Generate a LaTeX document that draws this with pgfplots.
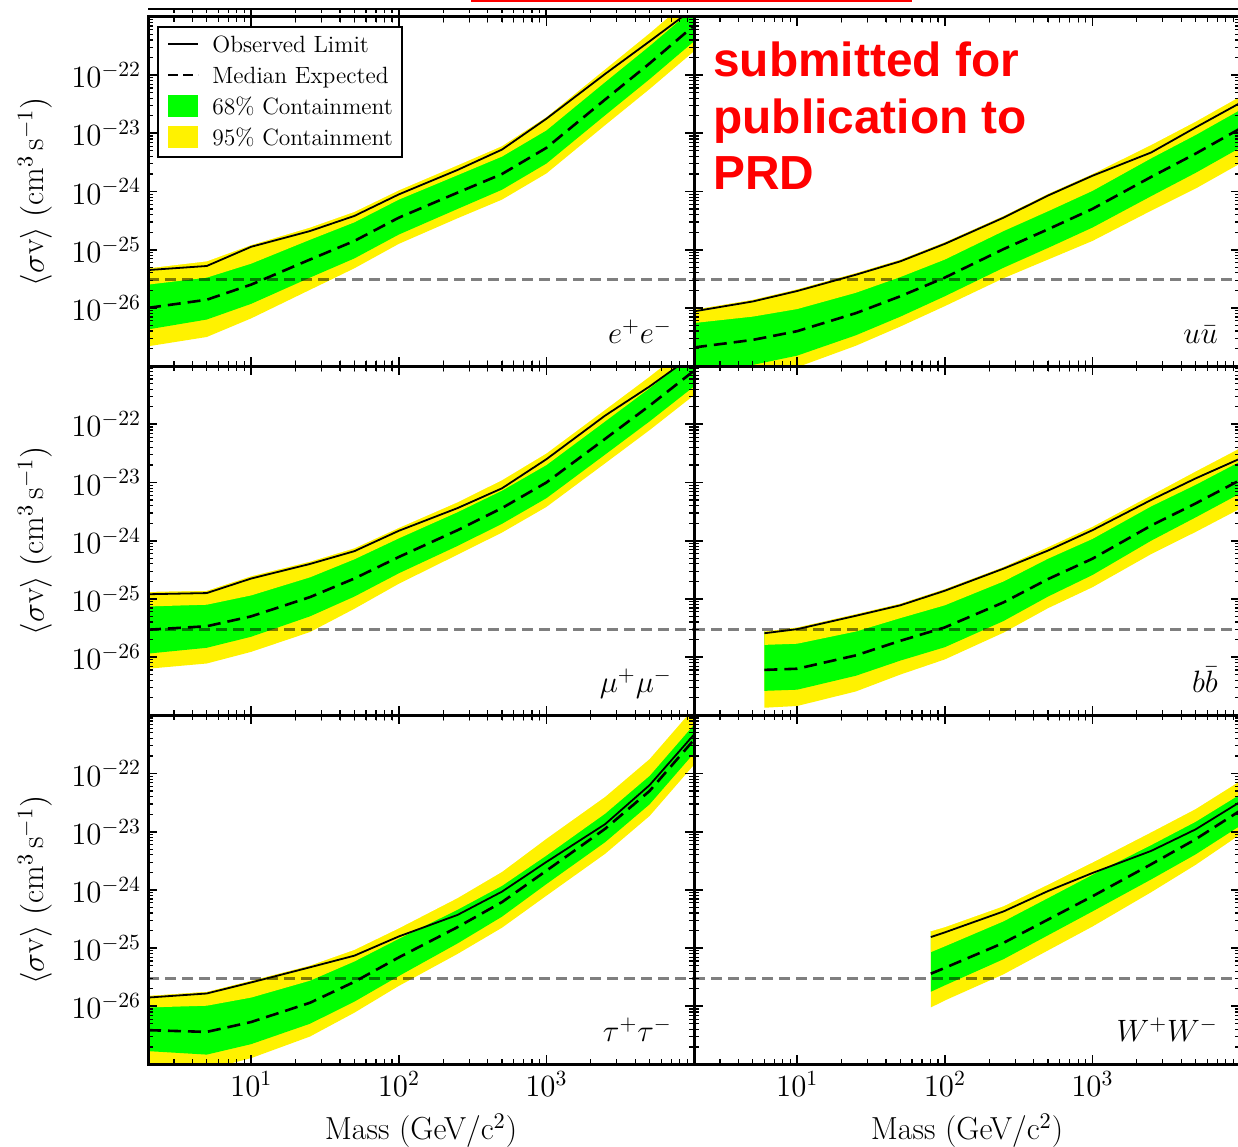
\RequirePackage{fix-cm}
\documentclass[border=0pt]{standalone}
\usepackage{fontspec}
\usepackage{pgfplots}
\usepackage{pgfplotstable}
\pgfplotsset{compat=1.18}
\newfontfamily\prdfont{Liberation Sans}

% Upper limits on <sigma v>, stored as log10 values.
% Columns: mass [GeV], observed, median expected, 95% low, 68% low, 68% high, 95% high
\pgfplotstableread{
m obs med yl gl gh yh
2     -25.35 -26.00 -26.66 -26.37 -25.60 -25.32
5     -25.28 -25.86 -26.50 -26.20 -25.48 -25.20
10    -24.95 -25.60 -26.18 -25.93 -25.24 -24.92
25    -24.68 -25.17 -25.69 -25.48 -24.83 -24.62
50    -24.42 -24.85 -25.32 -25.15 -24.53 -24.35
100   -24.05 -24.45 -24.90 -24.74 -24.14 -23.98
250   -23.63 -24.02 -24.46 -24.30 -23.72 -23.55
500   -23.28 -23.70 -24.14 -23.97 -23.40 -23.22
1000  -22.75 -23.25 -23.69 -23.52 -22.95 -22.72
2500  -21.98 -22.42 -22.86 -22.69 -22.12 -21.90
5000  -21.42 -21.80 -22.24 -22.07 -21.50 -21.28
10000 -20.85 -21.15 -21.59 -21.42 -20.85 -20.63
}\tabee

\pgfplotstableread{
m obs med yl gl gh yh
2     -26.06 -26.68 -27.36 -27.10 -26.26 -26.03
5     -25.89 -26.55 -27.21 -26.98 -26.15 -25.86
10    -25.71 -26.40 -27.02 -26.82 -26.02 -25.68
25    -25.43 -26.09 -26.65 -26.47 -25.74 -25.40
50    -25.20 -25.80 -26.32 -26.15 -25.47 -25.17
100   -24.90 -25.48 -25.97 -25.80 -25.17 -24.87
250   -24.45 -24.99 -25.49 -25.31 -24.68 -24.42
500   -24.07 -24.65 -25.17 -24.97 -24.34 -24.04
1000  -23.73 -24.30 -24.85 -24.62 -23.99 -23.70
2500  -23.33 -23.75 -24.33 -24.08 -23.43 -23.20
5000  -22.90 -23.35 -23.95 -23.68 -23.03 -22.80
10000 -22.48 -22.92 -23.52 -23.25 -22.60 -22.37
}\tabuu

\pgfplotstableread{
m obs med yl gl gh yh
2     -24.92 -25.53 -26.20 -25.94 -25.13 -24.88
5     -24.90 -25.47 -26.11 -25.84 -25.10 -24.86
10    -24.65 -25.30 -25.91 -25.65 -24.94 -24.61
25    -24.40 -24.97 -25.57 -25.30 -24.63 -24.36
50    -24.18 -24.65 -25.17 -24.96 -24.32 -24.13
100   -23.83 -24.28 -24.74 -24.56 -23.96 -23.78
250   -23.44 -23.82 -24.24 -24.09 -23.51 -23.34
500   -23.10 -23.44 -23.86 -23.71 -23.14 -22.96
1000  -22.60 -23.00 -23.42 -23.27 -22.70 -22.50
2500  -21.85 -22.25 -22.67 -22.52 -21.95 -21.75
5000  -21.35 -21.68 -22.10 -21.95 -21.38 -21.18
10000 -20.80 -21.08 -21.50 -21.35 -20.78 -20.58
}\tabmumu

\pgfplotstableread{
m obs med yl gl gh yh
6     -25.59 -26.22 -26.87 -26.58 -25.79 -25.56
10    -25.52 -26.20 -26.84 -26.56 -25.77 -25.49
25    -25.29 -25.97 -26.59 -26.32 -25.56 -25.26
50    -25.11 -25.72 -26.30 -26.06 -25.33 -25.08
100   -24.86 -25.49 -26.04 -25.83 -25.11 -24.83
250   -24.48 -25.06 -25.58 -25.38 -24.70 -24.45
500   -24.17 -24.66 -25.16 -24.96 -24.31 -24.11
1000  -23.82 -24.31 -24.80 -24.59 -23.97 -23.76
2500  -23.30 -23.74 -24.23 -24.00 -23.41 -23.22
5000  -22.93 -23.36 -23.85 -23.60 -23.04 -22.81
10000 -22.59 -22.96 -23.45 -23.19 -22.64 -22.41
}\tabbb

\pgfplotstableread{
m obs med yl gl gh yh
2     -25.85 -26.41 -27.05 -26.77 -26.02 -25.82
5     -25.78 -26.44 -27.09 -26.83 -25.99 -25.75
10    -25.59 -26.27 -26.89 -26.65 -25.85 -25.56
25    -25.33 -25.94 -26.52 -26.30 -25.56 -25.30
50    -25.13 -25.58 -26.11 -25.92 -25.23 -25.03
100   -24.80 -25.16 -25.65 -25.48 -24.84 -24.66
250   -24.43 -24.64 -25.10 -24.92 -24.34 -24.14
500   -24.03 -24.21 -24.65 -24.46 -23.93 -23.69
1000  -23.52 -23.67 -24.10 -23.90 -23.41 -23.12
2500  -22.87 -22.95 -23.38 -23.18 -22.69 -22.40
5000  -22.20 -22.30 -22.73 -22.53 -22.04 -21.75
10000 -21.33 -21.42 -21.85 -21.65 -21.16 -20.87
}\tabtautau

\pgfplotstableread{
m obs med yl gl gh yh
80.4  -24.81 -25.44 -26.02 -25.75 -25.07 -24.71
100   -24.73 -25.34 -25.90 -25.64 -24.97 -24.64
250   -24.37 -24.91 -25.45 -25.19 -24.54 -24.28
500   -24.02 -24.51 -25.04 -24.78 -24.14 -23.91
1000  -23.71 -24.11 -24.63 -24.37 -23.74 -23.53
2500  -23.33 -23.56 -24.04 -23.82 -23.23 -23.01
5000  -22.96 -23.13 -23.57 -23.39 -22.83 -22.61
10000 -22.49 -22.64 -23.05 -22.90 -22.36 -22.13
}\tabww

% minor tick positions: 2..9 per decade in mass, and log10 of 2..9 per decade in <sigma v>
\def\xminorlist{3,4,5,6,7,8,9,20,30,40,50,60,70,80,90,200,300,400,500,600,700,800,900,2000,3000,4000,5000,6000,7000,8000,9000}
\def\yminorlist{-26.699,-26.523,-26.398,-26.301,-26.222,-26.155,-26.097,-26.046,-25.699,-25.523,-25.398,-25.301,-25.222,-25.155,-25.097,-25.046,-24.699,-24.523,-24.398,-24.301,-24.222,-24.155,-24.097,-24.046,-23.699,-23.523,-23.398,-23.301,-23.222,-23.155,-23.097,-23.046,-22.699,-22.523,-22.398,-22.301,-22.222,-22.155,-22.097,-22.046,-21.699,-21.523,-21.398,-21.301,-21.222,-21.155,-21.097,-21.046}

% settings shared by all six panels
\pgfplotsset{
  scale only axis, width=273bp, height=174.6bp,
  xmin=2, xmax=10000, ymin=-27, ymax=-21,
  xtick={10,100,1000},
  ytick={-26,-25,-24,-23,-22},
  every tick label/.append style={font=\fontsize{15.5}{18}\selectfont},
  every axis label/.append style={font=\fontsize{16}{19}\selectfont},
  every axis y label/.style={at={(axis description cs:-0.207,0.5)}, rotate=90, anchor=center},
  every axis x label/.style={at={(axis description cs:0.5,0)}, yshift=-37.7bp, anchor=base},
}

% #1 table, #2 lowest mass of the channel.
% Bands are painted from the bottom edge upwards: each fill covers the region
% above one band edge, so the last (white) one clears everything above the 95% band.
\newcommand{\limitpanel}[2]{%
  \addplot[fill=yellow, draw=none, forget plot] table[x=m, y=yl]{#1} |- (axis cs:#2,-20) -- cycle;
  \addplot[fill=green, draw=none, forget plot] table[x=m, y=gl]{#1} |- (axis cs:#2,-20) -- cycle;
  \addplot[fill=yellow, draw=none, forget plot] table[x=m, y=gh]{#1} |- (axis cs:#2,-20) -- cycle;
  \addplot[fill=white, draw=none, forget plot] table[x=m, y=yh]{#1} |- (axis cs:1.5,-20) -- cycle;
  \addplot[black, opacity=0.5, line width=1.5bp, dash pattern=on 5.5bp off 3bp, forget plot]
    coordinates {(2,-25.52) (10000,-25.52)};
  \addplot[black, line width=1.3bp, dash pattern=on 6.5bp off 3.5bp, forget plot] table[x=m, y=med]{#1};
  \addplot[black, line width=0.9bp, forget plot] table[x=m, y=obs]{#1};
}
\newcommand{\channel}[1]{%
  \node[anchor=base east, inner sep=0, font=\fontsize{15.5}{18}\selectfont] at (rel axis cs:0.96,0.065) {#1};
}

\begin{document}
\begin{tikzpicture}
\path[use as bounding box] (0bp,0bp) rectangle (619bp,573.5bp);

% remnants of the slide around the figure: the frame edge of the plot above, and a red box
\draw[line width=1.2bp] (74bp,569bp) -- (619bp,569bp);
\foreach \m in {3,4,5,6,7,8,9,20,30,40,50,60,70,80,90,200,300,400,500,600,700,800,900,2000,3000,4000,5000,6000,7000,8000,9000}{
  \pgfmathsetmacro\xx{74+273*(ln(\m)-ln(2))/(ln(10000)-ln(2))}
  \draw[line width=0.6bp] (\xx bp,569bp) -- (\xx bp,566.8bp);
}
\foreach \m in {10,100,1000}{
  \pgfmathsetmacro\xx{74+273*(ln(\m)-ln(2))/(ln(10000)-ln(2))}
  \draw[line width=0.9bp] (\xx bp,569bp) -- (\xx bp,565.5bp);
}
\draw[red, line width=1.2bp] (235.5bp,573bp) -- (456bp,573bp);

% top row
\begin{axis}[xmode=log, at={(74bp,390.45bp)}, anchor=south west,
  axis on top, tick align=inside, major tick length=4.5bp,
  major tick style={line width=0.9bp, black}, axis line style={line width=1.5bp},
  extra x ticks/.expand once=\xminorlist, extra y ticks/.expand once=\yminorlist,
  extra x tick labels={}, extra y tick labels={},
  extra tick style={major tick length=2.5bp, major tick style={line width=0.6bp, black}},
  xticklabels={},
  yticklabels={$10^{-26}$,$10^{-25}$,$10^{-24}$,$10^{-23}$,$10^{-22}$},
  ylabel={$\langle\sigma\mathrm{v}\rangle$ $(\mathrm{cm}^3\,\mathrm{s}^{-1})$}]
  \limitpanel{\tabee}{2}
  \channel{$e^+e^-$}
\end{axis}

\begin{axis}[xmode=log, at={(347bp,390.45bp)}, anchor=south west,
  axis on top, tick align=inside, major tick length=4.5bp,
  major tick style={line width=0.9bp, black}, axis line style={line width=1.5bp},
  extra x ticks/.expand once=\xminorlist, extra y ticks/.expand once=\yminorlist,
  extra x tick labels={}, extra y tick labels={},
  extra tick style={major tick length=2.5bp, major tick style={line width=0.6bp, black}},
  xticklabels={}, yticklabels={}]
  \limitpanel{\tabuu}{2}
  \channel{$u\bar{u}$}
\end{axis}

% middle row
\begin{axis}[xmode=log, at={(74bp,215.85bp)}, anchor=south west,
  axis on top, tick align=inside, major tick length=4.5bp,
  major tick style={line width=0.9bp, black}, axis line style={line width=1.5bp},
  extra x ticks/.expand once=\xminorlist, extra y ticks/.expand once=\yminorlist,
  extra x tick labels={}, extra y tick labels={},
  extra tick style={major tick length=2.5bp, major tick style={line width=0.6bp, black}},
  xticklabels={},
  yticklabels={$10^{-26}$,$10^{-25}$,$10^{-24}$,$10^{-23}$,$10^{-22}$},
  ylabel={$\langle\sigma\mathrm{v}\rangle$ $(\mathrm{cm}^3\,\mathrm{s}^{-1})$}]
  \limitpanel{\tabmumu}{2}
  \channel{$\mu^+\mu^-$}
\end{axis}

\begin{axis}[xmode=log, at={(347bp,215.85bp)}, anchor=south west,
  axis on top, tick align=inside, major tick length=4.5bp,
  major tick style={line width=0.9bp, black}, axis line style={line width=1.5bp},
  extra x ticks/.expand once=\xminorlist, extra y ticks/.expand once=\yminorlist,
  extra x tick labels={}, extra y tick labels={},
  extra tick style={major tick length=2.5bp, major tick style={line width=0.6bp, black}},
  xticklabels={}, yticklabels={}]
  \limitpanel{\tabbb}{6}
  \channel{$b\bar{b}$}
\end{axis}

% bottom row
\begin{axis}[xmode=log, at={(74bp,41.25bp)}, anchor=south west,
  axis on top, tick align=inside, major tick length=4.5bp,
  major tick style={line width=0.9bp, black}, axis line style={line width=1.5bp},
  extra x ticks/.expand once=\xminorlist, extra y ticks/.expand once=\yminorlist,
  extra x tick labels={}, extra y tick labels={},
  extra tick style={major tick length=2.5bp, major tick style={line width=0.6bp, black}},
  xticklabels={$10^{1}$,$10^{2}$,$10^{3}$},
  yticklabels={$10^{-26}$,$10^{-25}$,$10^{-24}$,$10^{-23}$,$10^{-22}$},
  ylabel={$\langle\sigma\mathrm{v}\rangle$ $(\mathrm{cm}^3\,\mathrm{s}^{-1})$},
  xlabel={Mass (GeV/c$^2$)}]
  \limitpanel{\tabtautau}{2}
  \channel{$\tau^+\tau^-$}
\end{axis}

\begin{axis}[xmode=log, at={(347bp,41.25bp)}, anchor=south west,
  axis on top, tick align=inside, major tick length=4.5bp,
  major tick style={line width=0.9bp, black}, axis line style={line width=1.5bp},
  extra x ticks/.expand once=\xminorlist, extra y ticks/.expand once=\yminorlist,
  extra x tick labels={}, extra y tick labels={},
  extra tick style={major tick length=2.5bp, major tick style={line width=0.6bp, black}},
  xticklabels={$10^{1}$,$10^{2}$,$10^{3}$}, yticklabels={},
  xlabel={Mass (GeV/c$^2$)}]
  \limitpanel{\tabww}{80.4}
  \channel{$W^+W^-$}
\end{axis}

% legend of the e+e- panel
\begin{scope}[font=\fontsize{11.8}{14}\selectfont]
  \draw[line width=1.1bp, fill=white] (79bp,495bp) rectangle (201bp,560bp);
  \draw[black, line width=0.9bp] (84bp,551.5bp) -- (99bp,551.5bp);
  \draw[black, line width=1.3bp, dash pattern=on 5bp off 2.5bp] (84bp,536bp) -- (99bp,536bp);
  \fill[green] (84bp,515bp) rectangle (99bp,526bp);
  \fill[yellow] (84bp,499.5bp) rectangle (99bp,510.5bp);
  \node[anchor=base west, inner sep=0] at (106bp,547.3bp) {Observed Limit};
  \node[anchor=base west, inner sep=0] at (106bp,531.8bp) {Median Expected};
  \node[anchor=base west, inner sep=0] at (106bp,516.3bp) {68\% Containment};
  \node[anchor=base west, inner sep=0] at (106bp,500.8bp) {95\% Containment};
\end{scope}

% publication note
\node[anchor=base west, inner sep=0, text=red, font=\prdfont\bfseries\fontsize{24}{28}\selectfont] at (356.5bp,535bp) {submitted for};
\node[anchor=base west, inner sep=0, text=red, font=\prdfont\bfseries\fontsize{24}{28}\selectfont] at (356.5bp,506.5bp) {publication to};
\node[anchor=base west, inner sep=0, text=red, font=\prdfont\bfseries\fontsize{24}{28}\selectfont] at (356.5bp,478.5bp) {PRD};
\end{tikzpicture}
\end{document}
